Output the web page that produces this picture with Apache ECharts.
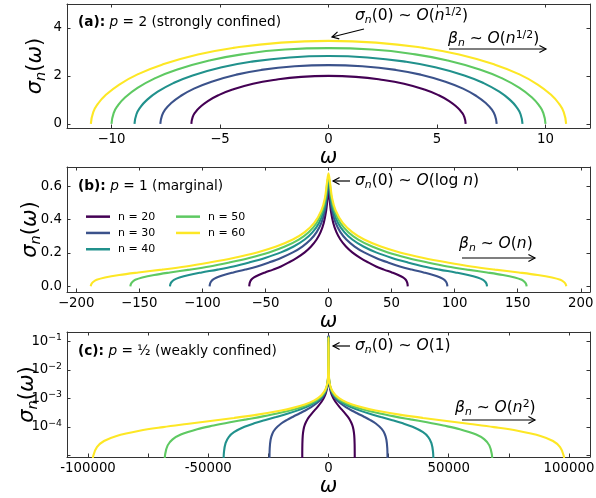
<!DOCTYPE html>
<html><head><meta charset="utf-8">
<script src="https://cdn.jsdelivr.net/npm/echarts@6/dist/echarts.min.js"></script>
<style>html,body{margin:0;padding:0;background:#fff}#c{width:596px;height:498px}</style>
</head><body><div id="c"></div>
<script>
// ---------- series names / colours ----------
const seriesNames = ['n = 20', 'n = 30', 'n = 40', 'n = 50', 'n = 60'];
const colors = ['#440154', '#3b528b', '#21918c', '#5ec962', '#fde725'];

// ---------- panel (a): p = 2 ----------
const a20w = [-6.32,-6.26,-6.13,-5.94,-5.56,-5.06,-4.42,-3.48,-2.53,-1.26,0,1.26,2.53,3.48,4.42,5.06,5.56,5.94,6.13,6.26,6.32];
const a20s = [0,0.28,0.49,0.68,0.95,1.2,1.43,1.67,1.83,1.96,2,1.96,1.83,1.67,1.43,1.2,0.95,0.68,0.49,0.28,0];
const a30w = [-7.75,-7.67,-7.52,-7.28,-6.82,-6.2,-5.42,-4.26,-3.1,-1.55,0,1.55,3.1,4.26,5.42,6.2,6.82,7.28,7.52,7.67,7.75];
const a30s = [0,0.35,0.6,0.84,1.16,1.47,1.75,2.05,2.25,2.4,2.45,2.4,2.25,2.05,1.75,1.47,1.16,0.84,0.6,0.35,0];
const a40w = [-8.94,-8.85,-8.67,-8.4,-7.87,-7.15,-6.26,-4.92,-3.58,-1.79,0,1.79,3.58,4.92,6.26,7.15,7.87,8.4,8.67,8.85,8.94];
const a40s = [0,0.4,0.69,0.97,1.34,1.7,2.02,2.36,2.59,2.77,2.83,2.77,2.59,2.36,2.02,1.7,1.34,0.97,0.69,0.4,0];
const a50w = [-10,-9.9,-9.7,-9.4,-8.8,-8,-7,-5.5,-4,-2,0,2,4,5.5,7,8,8.8,9.4,9.7,9.9,10];
const a50s = [0,0.45,0.77,1.08,1.5,1.9,2.26,2.64,2.9,3.1,3.16,3.1,2.9,2.64,2.26,1.9,1.5,1.08,0.77,0.45,0];
const a60w = [-10.95,-10.84,-10.62,-10.29,-9.64,-8.76,-7.67,-6.02,-4.38,-2.19,0,2.19,4.38,6.02,7.67,8.76,9.64,10.29,10.62,10.84,10.95];
const a60s = [0,0.49,0.84,1.18,1.64,2.08,2.47,2.89,3.17,3.39,3.46,3.39,3.17,2.89,2.47,2.08,1.64,1.18,0.84,0.49,0];

// ---------- panel (b): p = 1 ----------
const b20w = [-62.83,-62.64,-62.2,-61.26,-59.06,-55.29,-50.27,-43.98,-37.7,-31.42,-25.13,-18.85,-13.82,-9.42,-6.28,-3.77,-1.88,-0.94,-0.38,0,0.38,0.94,1.88,3.77,6.28,9.42,13.82,18.85,25.13,31.42,37.7,43.98,50.27,55.29,59.06,61.26,62.2,62.64,62.83];
const b20s = [0,0.014,0.026,0.039,0.053,0.068,0.083,0.1,0.119,0.143,0.17,0.203,0.238,0.28,0.324,0.379,0.452,0.515,0.555,0.565,0.555,0.515,0.452,0.379,0.324,0.28,0.238,0.203,0.17,0.143,0.119,0.1,0.083,0.068,0.053,0.039,0.026,0.014,0];
const b30w = [-94.25,-93.96,-93.3,-91.89,-88.59,-82.94,-75.4,-65.97,-56.55,-47.12,-37.7,-28.27,-20.73,-14.14,-9.42,-5.65,-2.83,-1.41,-0.57,0,0.57,1.41,2.83,5.65,9.42,14.14,20.73,28.27,37.7,47.12,56.55,65.97,75.4,82.94,88.59,91.89,93.3,93.96,94.25];
const b30s = [0,0.014,0.026,0.039,0.053,0.068,0.083,0.1,0.119,0.143,0.17,0.203,0.238,0.28,0.324,0.379,0.453,0.525,0.59,0.605,0.59,0.525,0.453,0.379,0.324,0.28,0.238,0.203,0.17,0.143,0.119,0.1,0.083,0.068,0.053,0.039,0.026,0.014,0];
const b40w = [-125.66,-125.28,-124.41,-122.52,-118.12,-110.58,-100.53,-87.96,-75.4,-62.83,-50.27,-37.7,-27.65,-18.85,-12.57,-7.54,-3.77,-1.88,-0.75,0,0.75,1.88,3.77,7.54,12.57,18.85,27.65,37.7,50.27,62.83,75.4,87.96,100.53,110.58,118.12,122.52,124.41,125.28,125.66];
const b40s = [0,0.014,0.026,0.039,0.053,0.068,0.083,0.1,0.119,0.143,0.17,0.203,0.238,0.28,0.324,0.379,0.454,0.527,0.61,0.632,0.61,0.527,0.454,0.379,0.324,0.28,0.238,0.203,0.17,0.143,0.119,0.1,0.083,0.068,0.053,0.039,0.026,0.014,0];
const b50w = [-157.08,-156.61,-155.51,-153.15,-147.65,-138.23,-125.66,-109.96,-94.25,-78.54,-62.83,-47.12,-34.56,-23.56,-15.71,-9.42,-4.71,-2.36,-0.94,0,0.94,2.36,4.71,9.42,15.71,23.56,34.56,47.12,62.83,78.54,94.25,109.96,125.66,138.23,147.65,153.15,155.51,156.61,157.08];
const b50s = [0,0.014,0.026,0.039,0.053,0.068,0.083,0.1,0.119,0.143,0.17,0.203,0.238,0.28,0.324,0.379,0.454,0.528,0.62,0.655,0.62,0.528,0.454,0.379,0.324,0.28,0.238,0.203,0.17,0.143,0.119,0.1,0.083,0.068,0.053,0.039,0.026,0.014,0];
const b60w = [-188.5,-187.93,-186.62,-183.79,-177.19,-165.88,-150.8,-131.95,-113.1,-94.25,-75.4,-56.55,-41.47,-28.27,-18.85,-11.31,-5.65,-2.83,-1.13,0,1.13,2.83,5.65,11.31,18.85,28.27,41.47,56.55,75.4,94.25,113.1,131.95,150.8,165.88,177.19,183.79,186.62,187.93,188.5];
const b60s = [0,0.014,0.026,0.039,0.053,0.068,0.083,0.1,0.119,0.143,0.17,0.203,0.238,0.28,0.324,0.379,0.454,0.529,0.625,0.677,0.625,0.529,0.454,0.379,0.324,0.28,0.238,0.203,0.17,0.143,0.119,0.1,0.083,0.068,0.053,0.039,0.026,0.014,0];

// ---------- panel (c): p = 1/2 (log scale) ----------
const c20w = [-10920,-10909,-10865,-10702,-10374,-9828,-8736,-7644,-6552,-5460,-4368,-3276,-2184,-1638,-1092,-655,-328,-109,-22,0,22,109,328,655,1092,1638,2184,3276,4368,5460,6552,7644,8736,9828,10374,10702,10865,10909,10920];
const c20s = [1e-7,1.1e-5,2.49e-5,4.98e-5,8.1e-5,1.2e-4,1.85e-4,2.49e-4,3.22e-4,4.09e-4,5.22e-4,6.87e-4,9.54e-4,1.18e-3,1.56e-3,2.16e-3,3.26e-3,6.0e-3,1.4e-2,0.16,1.4e-2,6.0e-3,3.26e-3,2.16e-3,1.56e-3,1.18e-3,9.54e-4,6.87e-4,5.22e-4,4.09e-4,3.22e-4,2.49e-4,1.85e-4,1.2e-4,8.1e-5,4.98e-5,2.49e-5,1.1e-5,1e-7];
const c30w = [-24570,-24545,-24447,-24079,-23342,-22113,-19656,-17199,-14742,-12285,-9828,-7371,-4914,-3686,-2457,-1474,-737,-246,-49,0,49,246,737,1474,2457,3686,4914,7371,9828,12285,14742,17199,19656,22113,23342,24079,24447,24545,24570];
const c30s = [1e-7,7.8e-6,1.76e-5,3.52e-5,5.71e-5,8.46e-5,1.31e-4,1.76e-4,2.27e-4,2.89e-4,3.68e-4,4.85e-4,6.74e-4,8.34e-4,1.1e-3,1.52e-3,2.3e-3,4.24e-3,9.9e-3,0.155,9.9e-3,4.24e-3,2.3e-3,1.52e-3,1.1e-3,8.34e-4,6.74e-4,4.85e-4,3.68e-4,2.89e-4,2.27e-4,1.76e-4,1.31e-4,8.46e-5,5.71e-5,3.52e-5,1.76e-5,7.8e-6,1e-7];
const c40w = [-43680,-43636,-43462,-42806,-41496,-39312,-34944,-30576,-26208,-21840,-17472,-13104,-8736,-6552,-4368,-2621,-1310,-437,-87,0,87,437,1310,2621,4368,6552,8736,13104,17472,21840,26208,30576,34944,39312,41496,42806,43462,43636,43680];
const c40s = [1e-7,6.0e-6,1.35e-5,2.69e-5,4.38e-5,6.48e-5,1.0e-4,1.35e-4,1.74e-4,2.21e-4,2.82e-4,3.71e-4,5.16e-4,6.39e-4,8.43e-4,1.17e-3,1.76e-3,3.25e-3,7.59e-3,0.15,7.59e-3,3.25e-3,1.76e-3,1.17e-3,8.43e-4,6.39e-4,5.16e-4,3.71e-4,2.82e-4,2.21e-4,1.74e-4,1.35e-4,1.0e-4,6.48e-5,4.38e-5,2.69e-5,1.35e-5,6.0e-6,1e-7];
const c50w = [-68250,-68182,-67909,-66885,-64838,-61425,-54600,-47775,-40950,-34125,-27300,-20475,-13650,-10238,-6825,-4095,-2048,-683,-137,0,137,683,2048,4095,6825,10238,13650,20475,27300,34125,40950,47775,54600,61425,64838,66885,67909,68182,68250];
const c50s = [1e-7,4.9e-6,1.11e-5,2.23e-5,3.62e-5,5.36e-5,8.28e-5,1.11e-4,1.44e-4,1.83e-4,2.33e-4,3.07e-4,4.27e-4,5.28e-4,6.97e-4,9.65e-4,1.46e-3,2.68e-3,6.27e-3,0.145,6.27e-3,2.68e-3,1.46e-3,9.65e-4,6.97e-4,5.28e-4,4.27e-4,3.07e-4,2.33e-4,1.83e-4,1.44e-4,1.11e-4,8.28e-5,5.36e-5,3.62e-5,2.23e-5,1.11e-5,4.9e-6,1e-7];
const c60w = [-98280,-98182,-97789,-96314,-93366,-88452,-78624,-68796,-58968,-49140,-39312,-29484,-19656,-14742,-9828,-5897,-2948,-983,-197,0,197,983,2948,5897,9828,14742,19656,29484,39312,49140,58968,68796,78624,88452,93366,96314,97789,98182,98280];
const c60s = [1e-7,4.3e-6,9.8e-6,1.95e-5,3.17e-5,4.7e-5,7.26e-5,9.77e-5,1.26e-4,1.61e-4,2.05e-4,2.69e-4,3.74e-4,4.63e-4,6.11e-4,8.46e-4,1.28e-3,2.35e-3,5.5e-3,0.14,5.5e-3,2.35e-3,1.28e-3,8.46e-4,6.11e-4,4.63e-4,3.74e-4,2.69e-4,2.05e-4,1.61e-4,1.26e-4,9.77e-5,7.26e-5,4.7e-5,3.17e-5,1.95e-5,9.8e-6,4.3e-6,1e-7];

// ---------- ticks ----------
const ticksAx = [-10, -5, 0, 5, 10];
const ticksAy = [0, 2, 4];
const ticksBx = [-200, -150, -100, -50, 0, 50, 100, 150, 200];
const ticksBy = [0, 0.2, 0.4, 0.6];
const ticksCx = [-100000, -75000, -50000, -25000, 0, 25000, 50000, 75000, 100000];
const labelsCx = [-100000, -50000, 0, 50000, 100000];

const FONT = 'DejaVu Sans';
const AX = '#333';
const zip = (w, s) => w.map((x, i) => [x, s[i]]);
const uminus = v => (v < 0 ? '\u2212' + Math.abs(v) : String(v));

const panels = [
  { w: [a20w, a30w, a40w, a50w, a60w], s: [a20s, a30s, a40s, a50s, a60s], smooth: 0.5 },
  { w: [b20w, b30w, b40w, b50w, b60w], s: [b20s, b30s, b40s, b50s, b60s], smooth: 0.35 },
  { w: [c20w, c30w, c40w, c50w, c60w], s: [c20s, c30s, c40s, c50s, c60s], smooth: 0.35 }
];

const grids = [
  { left: 67, right: 6, top: 4, height: 124 },
  { left: 67, right: 6, top: 167, height: 125 },
  { left: 67, right: 6, top: 332, height: 125 }
].map(g => Object.assign(g, { outerBoundsMode: 'none', containLabel: false }));

const nameStyleX = { fontSize: 21, fontStyle: 'italic', fontFamily: FONT, color: '#000' };
const yName = '{i|σ}{s|n}{r|(}{i|ω}{r|)}';
const nameStyleY = {
  fontFamily: FONT, color: '#000',
  rich: {
    i: { fontStyle: 'italic', fontSize: 21, fontFamily: FONT, color: '#000', lineHeight: 26 },
    s: { fontStyle: 'italic', fontSize: 14.5, fontFamily: FONT, color: '#000', verticalAlign: 'bottom', lineHeight: 14 },
    r: { fontSize: 21, fontFamily: FONT, color: '#000', lineHeight: 26 }
  }
};
const lblStyle = { color: '#000', fontSize: 13.3, fontFamily: FONT };

function xPair(g, min, max, ticks, labels, fmt) {
  const base = { type: 'value', gridIndex: g, min, max, splitLine: { show: false },
    axisLine: { onZero: false, lineStyle: { color: AX, width: 1 } } };
  return [
    Object.assign({}, base, { position: 'bottom',
      axisTick: { inside: true, length: 3.5, customValues: ticks, lineStyle: { color: AX } },
      axisLabel: Object.assign({ customValues: labels, formatter: fmt, margin: 5 }, lblStyle),
      name: 'ω', nameLocation: 'middle', nameGap: 12, nameTextStyle: nameStyleX }),
    Object.assign({}, base, { position: 'top',
      axisTick: { inside: true, length: 3.5, customValues: ticks, lineStyle: { color: AX } },
      axisLabel: { show: false } })
  ];
}
function yPair(g, min, max, ticks, fmt, gap) {
  const base = { type: 'value', gridIndex: g, min, max, splitLine: { show: false },
    axisLine: { onZero: false, lineStyle: { color: AX, width: 1 } } };
  return [
    Object.assign({}, base, { position: 'left',
      axisTick: { inside: true, length: 3.5, customValues: ticks, lineStyle: { color: AX } },
      axisLabel: Object.assign({ customValues: ticks, formatter: fmt, margin: 5 }, lblStyle),
      name: yName, nameLocation: 'middle', nameRotate: 90, nameGap: gap, nameMoveOverlap: false,
      nameTextStyle: nameStyleY }),
    Object.assign({}, base, { position: 'right',
      axisTick: { inside: true, length: 3.5, customValues: ticks, lineStyle: { color: AX } },
      axisLabel: { show: false } })
  ];
}
function logLabel(v) {
  const e = Math.log10(v);
  const k = Math.round(e);
  if (Math.abs(e - k) > 1e-6 || k < -4 || k > -1) return '';
  return '{b|10}{s|\u2212' + (-k) + '}';
}
const yLogBase = { type: 'log', gridIndex: 2, min: 8.71e-6, max: 0.2148, splitLine: { show: false },
  axisLine: { onZero: false, lineStyle: { color: AX, width: 1 } } };

const xAxis = [].concat(
  xPair(0, -12.05, 12.05, ticksAx, ticksAx, uminus),
  xPair(1, -207.3, 207.3, ticksBx, ticksBx, uminus),
  xPair(2, -108750, 108750, ticksCx, labelsCx, v => String(v))
);
const yAxis = [].concat(
  yPair(0, -0.173, 5, ticksAy, v => String(v), 18.5),
  yPair(1, -0.034, 0.714, ticksBy, v => v.toFixed(1), 23),
  [
    Object.assign({}, yLogBase, { position: 'left',
      axisTick: { inside: true, length: 3.5, lineStyle: { color: AX } },
      axisLabel: { formatter: logLabel, margin: 5, showMinLabel: false, showMaxLabel: false,
        rich: { b: { fontSize: 13.3, fontFamily: FONT, color: '#000', lineHeight: 16 },
                s: { fontSize: 9.3, fontFamily: FONT, color: '#000', verticalAlign: 'top', lineHeight: 9 } } },
      name: yName, nameLocation: 'middle', nameRotate: 90, nameGap: 26, nameMoveOverlap: false,
      nameTextStyle: nameStyleY }),
    Object.assign({}, yLogBase, { position: 'right',
      axisTick: { inside: true, length: 3.5, lineStyle: { color: AX } },
      axisLabel: { show: false } })
  ]
);

const series = [];
panels.forEach((p, pi) => {
  p.w.forEach((w, k) => {
    series.push({
      type: 'line', name: seriesNames[k], xAxisIndex: pi * 2, yAxisIndex: pi * 2,
      data: zip(w, p.s[k]), showSymbol: false, symbol: 'none',
      smooth: p.smooth,
      lineStyle: { width: 2.1, color: colors[k] }, itemStyle: { color: colors[k] },
      emphasis: { disabled: true }, animation: false
    });
  });
});

// ---------- annotations ----------
function tokens(fs) {
  return {
    i: { fontFamily: FONT, fontStyle: 'italic', fontSize: fs, lineHeight: fs * 1.25, fill: '#000' },
    s: { fontFamily: FONT, fontStyle: 'italic', fontSize: fs * 0.7, lineHeight: fs * 0.7, verticalAlign: 'bottom', fill: '#000' },
    p: { fontFamily: FONT, fontSize: fs * 0.7, lineHeight: fs * 0.7, verticalAlign: 'top', fill: '#000' },
    b: { fontFamily: FONT, fontWeight: 'bold', fontSize: fs, lineHeight: fs * 1.25, fill: '#000' }
  };
}
function txt(text, x, y, fs) {
  return { type: 'text', z: 100, silent: true,
    style: { text, x, y, align: 'left', verticalAlign: 'middle', fill: '#000',
      fontFamily: FONT, fontSize: fs, lineHeight: fs * 1.25, rich: tokens(fs) } };
}
function arrow(x1, y1, x2, y2) {
  const ang = Math.atan2(y2 - y1, x2 - x1), L = 7.5, a = 0.5;
  return [
    { type: 'line', z: 100, silent: true, shape: { x1, y1, x2, y2 }, style: { stroke: '#000', lineWidth: 1.2 } },
    { type: 'polyline', z: 100, silent: true,
      shape: { points: [[x2 - L * Math.cos(ang - a), y2 - L * Math.sin(ang - a)], [x2, y2], [x2 - L * Math.cos(ang + a), y2 - L * Math.sin(ang + a)]] },
      style: { stroke: '#000', lineWidth: 1.2, fill: null } }
  ];
}
const elements = [].concat(
  [txt('{b|(a):} {i|p} = 2 (strongly confined)', 78, 22, 13.7),
   txt('{i|σ}{s|n}(0) ∼ {i|O}({i|n}{p|1/2})', 355, 16, 15.5),
   txt('{i|β}{s|n} ∼ {i|O}({i|n}{p|1/2})', 448, 39, 15.5)],
  arrow(364, 29, 332, 37), arrow(449, 49, 546, 49),
  [txt('{b|(b):} {i|p} = 1 (marginal)', 78, 186, 13.7),
   txt('{i|σ}{s|n}(0) ∼ {i|O}(log {i|n})', 355, 181, 15.5),
   txt('{i|β}{s|n} ∼ {i|O}({i|n})', 459, 243.5, 15.5)],
  arrow(350, 181, 333, 181), arrow(462, 258, 535, 258),
  [txt('{b|(c):} {i|p} = ½ (weakly confined)', 78, 351.5, 13.7),
   txt('{i|σ}{s|n}(0) ∼ {i|O}(1)', 355, 346, 15.5),
   txt('{i|β}{s|n} ∼ {i|O}({i|n}{p|2})', 455, 408, 15.5)],
  arrow(350, 346, 333, 346), arrow(462, 420, 535, 420)
);

const legendBase = { orient: 'vertical', top: 208.5, icon: 'rect', itemWidth: 24, itemHeight: 2.5,
  itemGap: 0, padding: 0, selectedMode: false,
  textStyle: { fontSize: 11, fontFamily: FONT, color: '#000', lineHeight: 16.3, padding: [0, 0, 0, 3] } };

const option = {
  animation: false,
  backgroundColor: '#fff',
  textStyle: { fontFamily: FONT },
  grid: grids,
  xAxis, yAxis, series,
  legend: [
    Object.assign({ left: 86, data: seriesNames.slice(0, 3) }, legendBase),
    Object.assign({ left: 176, data: seriesNames.slice(3) }, legendBase)
  ],
  graphic: { elements }
};
const chart = echarts.init(document.getElementById('c'), null, { renderer: 'canvas' });
chart.setOption(option);
</script></body></html>
